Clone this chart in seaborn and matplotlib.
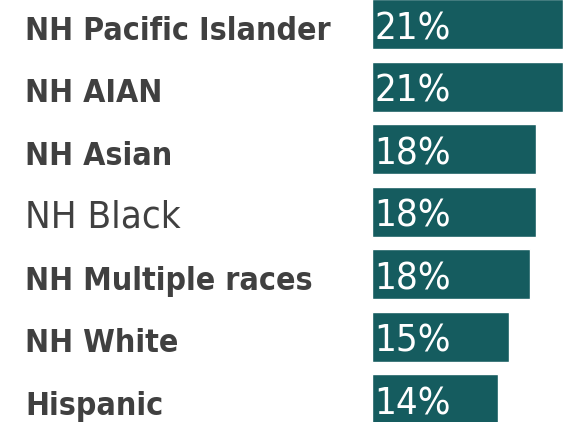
import matplotlib
matplotlib.use("Agg")
import matplotlib.pyplot as plt
import matplotlib.transforms as mtransforms
import seaborn as sns
import pandas as pd

categories = ["NH Pacific Islander", "NH AIAN", "NH Asian", "NH Black",
              "NH Multiple races", "NH White", "Hispanic"]
values = [21.0, 21.0, 18.0, 18.0, 17.4, 15.1, 13.8]
value_labels = ["21%", "21%", "18%", "18%", "18%", "15%", "14%"]

df = pd.DataFrame({"category": categories, "value": values})

sns.set_theme(style="white")
plt.rcParams['font.family'] = ['DejaVu Sans']

W, H = 566, 422
fig = plt.figure(figsize=(W / 100, H / 100), dpi=100)
ax_left, ax_w = 372 / W, 194 / W
ax_top_px, ax_bot_px = -7.25, 430.25
ax = fig.add_axes([ax_left, 1 - ax_bot_px / H, ax_w, (ax_bot_px - ax_top_px) / H])

sns.barplot(data=df, x="value", y="category", orient="h", color="#155c5f",
            saturation=1, width=0.8, ax=ax)
ax.set_xlim(0, 194 / 9.1)
ax.set_ylim(6.5, -0.5)
ax.axis("off")

trans = mtransforms.blended_transform_factory(fig.transFigure, ax.transData)
for i, cat in enumerate(categories):
    plain = cat == "NH Black"
    ax.text(25 / W, i + 0.25, cat, transform=trans, ha="left", va="baseline",
            fontsize=27.5 if plain else 23,
            fontweight="normal" if plain else "bold",
            fontstretch="condensed", color="#404040")
for i, lab in enumerate(value_labels):
    ax.text(0.3, i + 0.24, lab, ha="left", va="baseline", fontsize=27.5,
            fontstretch="condensed", color="white", fontweight="normal")

fig.savefig("out.png", dpi=100)
